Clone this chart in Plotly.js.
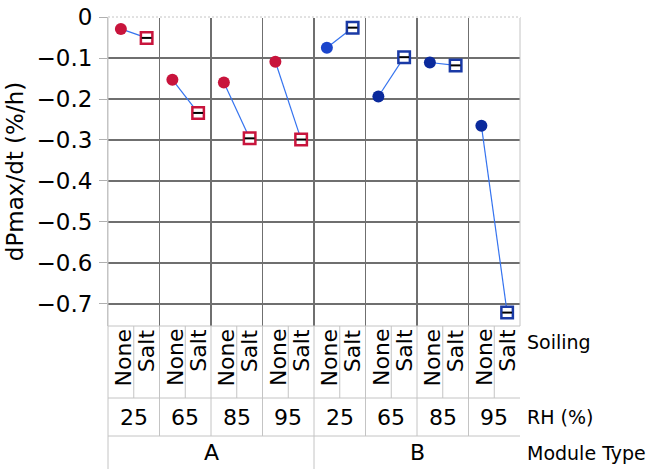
<!DOCTYPE html>
<html>
<head>
<meta charset="utf-8">
<script src="https://cdn.plot.ly/plotly-3.0.1.min.js"></script>
<style>html,body{margin:0;padding:0;background:#fff;}#chart{width:648px;height:469px;}</style>
</head>
<body>
<div id="chart"></div>
<script>
// ---- data ----
const moduleTypes = ['A', 'B'];
const rhLevels = ['25', '65', '85', '95'];
const soilingLevels = ['None', 'Salt'];
const moduleA_None = [-0.029, -0.153, -0.160, -0.109];
const moduleA_Salt = [-0.051, -0.234, -0.296, -0.299];
const moduleB_None = [-0.075, -0.194, -0.111, -0.265];
const moduleB_Salt = [-0.026, -0.098, -0.118, -0.721];
const yTickVals = [0, -0.1, -0.2, -0.3, -0.4, -0.5, -0.6, -0.7];

// ---- styles ----
const FONT = 'DejaVu Sans, sans-serif';
const GRID = '#6f6f6f';
const LIGHT = '#c4c4c4';
const LINK = '#3573ef';
const colA = '#c8143c';
const colBNone = ['#1b45cc', '#0b2a9c', '#0b2a9c', '#0b2a9c'];
const colBSalt = '#1a3aa6';

const valuesByModule = {A: {None: moduleA_None, Salt: moduleA_Salt}, B: {None: moduleB_None, Salt: moduleB_Salt}};

const traces = [];
const nR = rhLevels.length;
const nS = soilingLevels.length;
const nG = moduleTypes.length * nR;
const nCols = nG * nS;

moduleTypes.forEach((m, mi) => {
  rhLevels.forEach((r, ri) => {
    const g = mi * nR + ri;
    const xs = soilingLevels.map((s, si) => g * nS + si + 0.5);
    const ys = soilingLevels.map(s => valuesByModule[m][s][ri]);
    traces.push({x: xs, y: ys, mode: 'lines', line: {color: LINK, width: 1.2}, hoverinfo: 'skip', showlegend: false});
  });
});

moduleTypes.forEach((m, mi) => {
  const xsN = [], xsS = [];
  rhLevels.forEach((r, ri) => {
    const g = mi * nR + ri;
    xsN.push(g * nS + 0.5);
    xsS.push(g * nS + 1.5);
  });
  const cN = m === 'A' ? colA : colBNone;
  const cS = m === 'A' ? colA : colBSalt;
  traces.push({x: xsN, y: valuesByModule[m].None, mode: 'markers', showlegend: false,
    marker: {symbol: 'circle', size: 12, color: cN, line: {width: 0}}});
  traces.push({x: xsS, y: valuesByModule[m].Salt, mode: 'markers', showlegend: false,
    marker: {symbol: 'square', size: 11.5, color: '#ffffff', line: {width: 2.5, color: cS}}});
  traces.push({x: xsS, y: valuesByModule[m].Salt, mode: 'markers', showlegend: false,
    marker: {symbol: 'line-ew', size: 7, line: {width: 2, color: '#000'}}});
});

// ---- table below plot ----
const H = 469, T = 17, B = 143;
const plotH = H - T - B;
const py = px => (H - B - px) / plotH;   // pixel y -> paper y
const yTop = 0, ySoil = py(398), yRH = py(436), yMod = py(469);

const shapes = [];
const vline = (x, y0, y1, xref) => shapes.push({type: 'line', xref: xref || 'x', yref: 'paper', x0: x, x1: x, y0: y0, y1: y1, line: {color: LIGHT, width: 1}});
const hline = (y) => shapes.push({type: 'line', xref: 'paper', yref: 'paper', x0: 0, x1: 1, y0: y, y1: y, line: {color: LIGHT, width: 1}});

for (let c = 1; c < nCols; c++) vline(c, yTop, ySoil);
for (let g = 1; g < nG; g++) vline(g * nS, ySoil, yRH);
for (let mi = 1; mi < moduleTypes.length; mi++) vline(mi * nR * nS, yRH, yMod);
vline(0, yMod, 1, 'paper');
vline(1, yTop, 1, 'paper');
hline(0); hline(ySoil); hline(yRH);
shapes.push({type: 'line', xref: 'paper', yref: 'paper', x0: 0, x1: 1, y0: 1, y1: 1, line: {color: '#ffffff', width: 2}});
shapes.push({type: 'line', xref: 'paper', yref: 'paper', x0: 0, x1: 1, y0: 1, y1: 1, line: {color: LIGHT, width: 1, dash: '2px,2px'}});

const annotations = [];
for (let g = 0; g < nG; g++) {
  soilingLevels.forEach((s, si) => {
    annotations.push({x: g * nS + si + 0.5, y: yTop, xref: 'x', yref: 'paper', text: s, showarrow: false,
      textangle: -90, xanchor: 'center', yanchor: 'top', yshift: -1, xshift: si === 0 ? 3 : 0,
      font: {family: FONT, size: 22, color: '#000'}});
  });
  annotations.push({x: g * nS + nS / 2, y: (ySoil + yRH) / 2, xref: 'x', yref: 'paper', text: rhLevels[g % nR], showarrow: false,
    xanchor: 'center', yanchor: 'middle', font: {family: FONT, size: 22, color: '#000'}});
}
moduleTypes.forEach((m, mi) => {
  annotations.push({x: (mi + 0.5) * nR * nS, y: (yRH + yMod) / 2, xref: 'x', yref: 'paper', text: m, showarrow: false,
    xanchor: 'center', yanchor: 'middle', font: {family: FONT, size: 22, color: '#000'}});
});
const rowLabels = [['Soiling', py(342)], ['RH (%)', (ySoil + yRH) / 2], ['Module Type', (yRH + yMod) / 2]];
rowLabels.forEach(([t, y]) => annotations.push({x: 1, y: y, xref: 'paper', yref: 'paper', text: t, showarrow: false,
  xanchor: 'left', yanchor: 'middle', xshift: 5, font: {family: FONT, size: 19, color: '#000'}}));

const gridX = [];
for (let g = 1; g < nG; g++) gridX.push(g * nS);

const layout = {
  width: 648, height: 469,
  margin: {l: 108, r: 128, t: T, b: B, pad: 0},
  paper_bgcolor: '#fff', plot_bgcolor: '#fff',
  showlegend: false,
  font: {family: FONT, color: '#000'},
  xaxis: {range: [0, nCols], tickvals: gridX, showticklabels: false, ticks: '', showgrid: true,
    gridcolor: GRID, gridwidth: 1.2, zeroline: false, showline: false, fixedrange: true},
  yaxis: {range: [-0.7537, 0], tickvals: yTickVals, ticks: 'outside', ticklen: 8, tickcolor: '#b0b0b0', tickwidth: 1,
    tickfont: {family: FONT, size: 23, color: '#000'}, ticklabelstandoff: 2,
    showgrid: true, gridcolor: GRID, gridwidth: 1.2, zeroline: false, showline: true, linecolor: LIGHT, linewidth: 1,
    title: {text: 'dPmax/dt (%/h)', font: {family: FONT, size: 23, color: '#000'}, standoff: 6}, fixedrange: true},
  shapes: shapes,
  annotations: annotations
};

Plotly.newPlot('chart', traces, layout, {displayModeBar: false, staticPlot: true});
</script>
</body>
</html>
